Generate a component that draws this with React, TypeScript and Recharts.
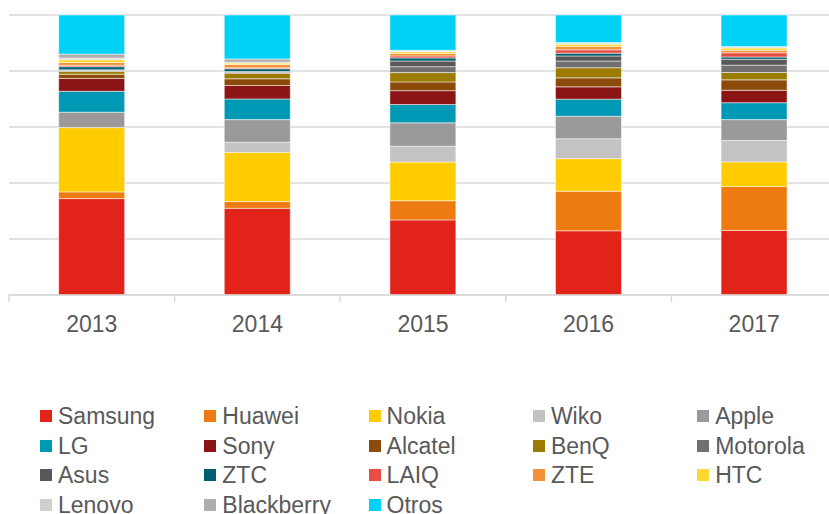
import React from 'react';
import { BarChart, Bar, XAxis, YAxis, CartesianGrid } from 'recharts';

const years = ['2013', '2014', '2015', '2016', '2017'];

const brands = [
  'Samsung', 'Huawei', 'Nokia', 'Wiko', 'Apple', 'LG', 'Sony', 'Alcatel', 'BenQ',
  'Motorola', 'Asus', 'ZTC', 'LAIQ', 'ZTE', 'HTC', 'Lenovo', 'Blackberry', 'Otros',
];

const colors = [
  '#E2231A', '#EE7B11', '#FFCC00', '#C4C2C3', '#9B999A', '#0099B5', '#8B1414', '#8C4A0B', '#9C7C00',
  '#736F70', '#58585A', '#005F6E', '#E84C45', '#F2933A', '#FFD733', '#D0CECF', '#AFAEAF', '#00D2F5',
];

// share (%) per brand, one value per year 2013..2017
const samsung = [34.5, 31.0, 26.6, 22.9, 22.9];
const huawei = [2.4, 2.4, 6.8, 14.1, 15.6];
const nokia = [23.0, 17.6, 13.7, 11.6, 8.7];
const wiko = [0, 3.6, 5.6, 7.1, 7.6];
const apple = [5.5, 8.1, 8.3, 8.0, 7.4];
const lg = [7.5, 7.4, 6.5, 6.1, 6.0];
const sony = [4.6, 4.8, 4.9, 4.4, 4.4];
const alcatel = [1.5, 2.4, 3.1, 3.2, 3.7];
const benq = [1.0, 2.0, 3.3, 3.6, 2.6];
const motorola = [0.3, 0.3, 2.1, 2.4, 2.6];
const asus = [0.3, 0.3, 2.0, 1.8, 2.1];
const ztc = [1.1, 1.0, 1.1, 1.0, 0.8];
const laiq = [0.5, 0.3, 0.7, 1.2, 1.5];
const zte = [1.0, 1.2, 0.9, 1.2, 0.9];
const htc = [1.0, 0.5, 0.6, 0.8, 0.8];
const lenovo = [0.6, 0.3, 0.3, 0.4, 0.4];
const blackberry = [1.4, 1.2, 0.2, 0.2, 0.1];
const otros = [14.0, 15.7, 12.5, 9.8, 11.2];

const values = [
  samsung, huawei, nokia, wiko, apple, lg, sony, alcatel, benq,
  motorola, asus, ztc, laiq, zte, htc, lenovo, blackberry, otros,
];

const data = years.map((year, i) => {
  const row: any = { year };
  brands.forEach((b, j) => { row[b] = values[j][i]; });
  return row;
});

const CHART_W = 845;
const M_LEFT = 9;
const M_RIGHT = 8;
const halfStep = (CHART_W - M_LEFT - M_RIGHT) / years.length / 2;

const YearTick = (props: any) => {
  const { x, y, payload } = props;
  return (
    <g>
      <line x1={x - halfStep} x2={x - halfStep} y1={y - 8} y2={y - 1} stroke="#d9d9d9" strokeWidth={1.5} />
      <text x={x} y={y + 29} textAnchor="middle" fontSize={23} fill="#595959"
        fontFamily='"Liberation Sans", Arial, sans-serif'>
        {payload.value}
      </text>
    </g>
  );
};

export default function App() {
  return (
    <div style={{
      position: 'absolute', left: 0, top: 0, width: 829, height: 514, overflow: 'hidden',
      background: '#fff', fontFamily: '"Liberation Sans", Arial, sans-serif',
    }}>
      <BarChart width={CHART_W} height={340} data={data} stackOffset="expand"
        margin={{ top: 15, right: M_RIGHT, left: M_LEFT, bottom: 5 }} barCategoryGap="30%">
        <CartesianGrid vertical={false} stroke="#d9d9d9" strokeWidth={1.5} />
        <YAxis hide domain={[0, 1]} ticks={[0, 0.2, 0.4, 0.6, 0.8, 1]} />
        <XAxis dataKey="year" height={40} interval={0} tickLine={false}
          axisLine={{ stroke: '#d9d9d9', strokeWidth: 1.5 }} tick={<YearTick />} />
        {brands.map((b, j) => (
          <Bar key={b} dataKey={b} stackId="a" fill={colors[j]} stroke="#ffffff" strokeWidth={0.5}
            isAnimationActive={false} />
        ))}
      </BarChart>
      <div style={{ position: 'absolute', left: 0, top: 402, width: 829 }}>
        {brands.map((b, j) => {
          const col = j % 5;
          const row = Math.floor(j / 5);
          return (
            <div key={b} style={{
              position: 'absolute', left: 40 + col * 164.3, top: row * 29.5,
              display: 'flex', alignItems: 'center', height: 28, whiteSpace: 'nowrap',
            }}>
              <span style={{ display: 'inline-block', width: 12, height: 12, background: colors[j], marginRight: 6 }} />
              <span style={{ fontSize: 23, color: '#595959', lineHeight: '28px' }}>{b}</span>
            </div>
          );
        })}
      </div>
    </div>
  );
}
